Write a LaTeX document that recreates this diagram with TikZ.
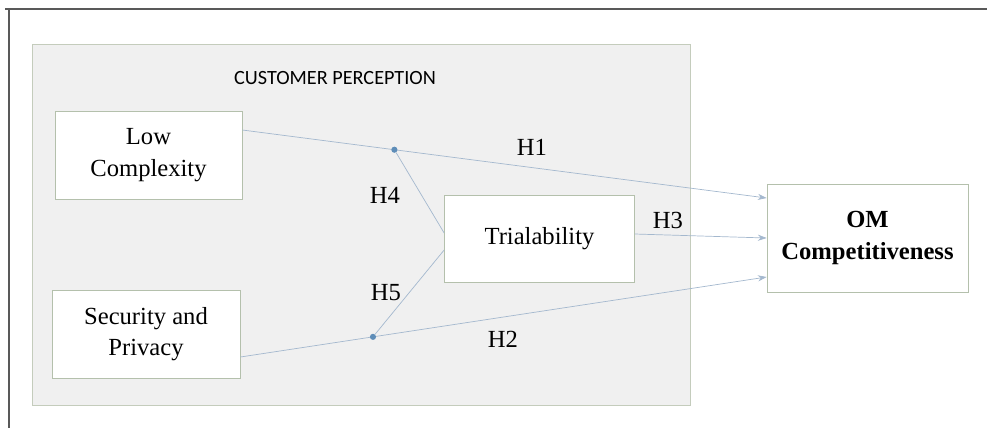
\documentclass[tikz,border=0pt]{standalone}
\usepackage{fontspec}
\setmainfont{Liberation Serif}
\newfontfamily\timesf{Liberation Serif}
\newfontfamily\calibri{Carlito}
\usepackage{xcolor}
\usepackage{tikz}
\usetikzlibrary{calc}
\usetikzlibrary{arrows.meta}

\definecolor{panelgray}{HTML}{F0F0F0}
\definecolor{panelline}{HTML}{C4CCBC}
\definecolor{boxline}{HTML}{B4C0AC}
\definecolor{pathblue}{HTML}{A4B8CE}
\definecolor{dotblue}{HTML}{5E8DB8}

\tikzset{
  construct/.style={draw=boxline,fill=white,align=center,inner sep=2pt,
    font=\timesf\fontsize{14}{18}\selectfont},
  hyp/.style={draw=pathblue,thin},
  hyparrow/.style={hyp,-{Stealth[length=5pt,width=3.5pt]}},
  dotmark/.style={circle,fill=dotblue,inner sep=0pt,minimum size=3.5pt},
  hlabel/.style={font=\timesf\fontsize{14}{16}\selectfont}
}

\begin{document}
\begin{tikzpicture}
\useasboundingbox (0,0) rectangle (19.74,-8.56);

% Frame
\draw[line width=1.2pt,black!65] (0.1,-0.18) -- (19.74,-0.18);
\draw[line width=1.2pt,black!65] (0.18,-0.18) -- (0.18,-8.56);

% Panel
\draw[panelline,fill=panelgray] (0.64,-0.88) rectangle (13.8,-8.1);
\node[font=\calibri\fontsize{11.5}{14}\selectfont] (title) at (6.7,-1.56) {CUSTOMER PERCEPTION};

% Constructs
\node[construct,minimum width=3.74cm,minimum height=1.76cm] (low) at (2.97,-3.1) {Low\\Complexity};
\node[construct,minimum width=3.76cm,minimum height=1.76cm] (sec) at (2.92,-6.68) {Security and\\Privacy};
\node[construct,minimum width=3.8cm,minimum height=1.74cm] (trial) at (10.79,-4.78) {Trialability};
\node[construct,minimum width=4.02cm,minimum height=2.16cm,font=\timesf\bfseries\fontsize{14}{18}\selectfont] (om) at (17.35,-4.76) {OM\\Competitiveness};

% Direct paths
\draw[hyparrow] ([yshift=0.5cm]low.east) -- node[pos=0.29,dotmark] (d1) {} ([yshift=0.8cm]om.west);
\draw[hyparrow] ([yshift=-0.46cm]sec.east) -- node[pos=0.252,dotmark] (d2) {} ([yshift=-0.78cm]om.west);
\draw[hyparrow] ([yshift=0.1cm]trial.east) -- (om.west);

% Moderating paths
\draw[hyp] (d1) -- ([yshift=0.12cm]trial.west);
\draw[hyp] ([yshift=-0.22cm]trial.west) -- (d2);

% Labels
\node[hlabel] (lblH1) at (10.64,-2.94) {H1};
\node[hlabel] (lblH2) at (10.06,-6.78) {H2};
\node[hlabel] (lblH3) at (13.36,-4.4) {H3};
\node[hlabel] (lblH4) at (7.7,-3.9) {H4};
\node[hlabel] (lblH5) at (7.72,-5.86) {H5};
\end{tikzpicture}
\end{document}
